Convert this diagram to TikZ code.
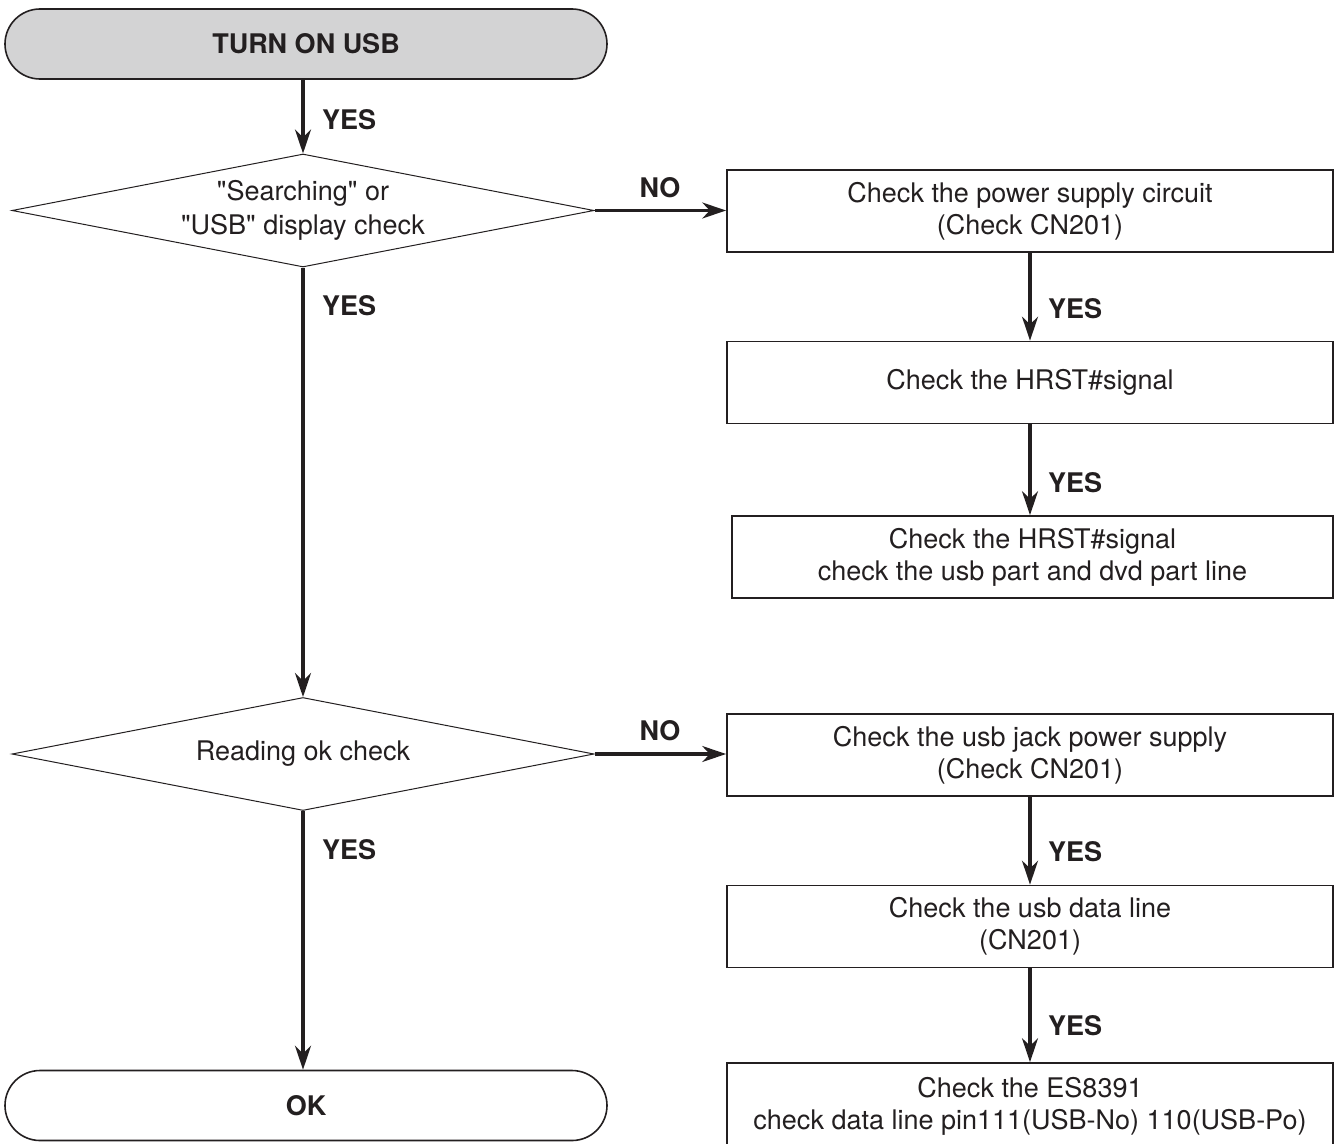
\documentclass[tikz,border=0pt]{standalone}
\usepackage{fontspec}
\setmainfont{TeX Gyre Heros}
\usetikzlibrary{arrows.meta,shapes.geometric}

\definecolor{ink}{HTML}{231F20}
\definecolor{termgray}{HTML}{D3D3D4}

\tikzset{
    term/.style={draw=ink,line width=1.6pt,rectangle,rounded corners=35pt,minimum width=602pt,minimum height=70pt,font=\bfseries},
    checkbox/.style={draw=ink,line width=1.7pt,rectangle,minimum width=606pt,minimum height=82pt,align=center,inner sep=0pt},
    decide/.style={draw=ink,line width=1pt,diamond,aspect=5.1,minimum width=582pt,minimum height=113pt,align=center,inner sep=0pt},
    flow/.style={draw=ink,line width=3.2pt,-{Stealth[length=24pt,width=16pt]}},
    answer/.style={font=\bfseries,text=ink,inner sep=0pt},
}

\begin{document}
\begin{tikzpicture}[x=1pt,y=-1pt,text=ink]
    \fontsize{27}{32}\selectfont
    \useasboundingbox[fill=white] (0,0) rectangle (1335,1143);
    %% Left column
    \node[term,fill=termgray] (start) at (306,44) {TURN ON USB};
    \node[decide] (search) at (303,210.5) {\textquotedbl Searching\textquotedbl{} or\\[2pt]\textquotedbl USB\textquotedbl{} display check};
    \node[decide] (read) at (303,754) {Reading ok check};
    \node[term] (ok) at (306,1105.5) {OK};
    %% Right column
    \node[checkbox] (power) at (1030,211) {Check the power supply circuit\\(Check CN201)};
    \node[checkbox] (hrst) at (1030,382.5) {Check the HRST\#signal};
    \node[checkbox,minimum width=601pt] (hrstline) at (1032.5,557) {Check the HRST\#signal\\check the usb part and dvd part line};
    \node[checkbox] (jack) at (1030,755) {Check the usb jack power supply\\(Check CN201)};
    \node[checkbox] (data) at (1030,926.5) {Check the usb data line\\(CN201)};
    \node[checkbox,minimum height=86pt] (es) at (1030,1106) {Check the ES8391\\check data line pin111(USB-No) 110(USB-Po)};
    %% Arrows
    \draw[flow] (start.south -| search.north) -- (search.north);
    \draw[flow] (search.south) -- (read.north);
    \draw[flow] (read.south) -- (ok.north -| read.south);
    \draw[flow] (search.east) -- (search.east -| power.west);
    \draw[flow] (read.east) -- (read.east -| jack.west);
    \draw[flow] (power.south) -- (hrst.north);
    \draw[flow] (hrst.south) -- (hrstline.north -| hrst.south);
    \draw[flow] (jack.south) -- (data.north);
    \draw[flow] (data.south) -- (es.north);
    %% Labels
    \node[answer,anchor=west] (y1) at (322,120) {YES};
    \node[answer,anchor=west] (y2) at (322,306) {YES};
    \node[answer,anchor=west] (y3) at (322,850) {YES};
    \node[answer,anchor=west] (y4) at (1048,309) {YES};
    \node[answer,anchor=west] (y5) at (1048,483) {YES};
    \node[answer,anchor=west] (y6) at (1048,852) {YES};
    \node[answer,anchor=west] (y7) at (1048,1026) {YES};
    \node[answer] (n1) at (660,188) {NO};
    \node[answer] (n2) at (660,731) {NO};
\end{tikzpicture}
\end{document}
